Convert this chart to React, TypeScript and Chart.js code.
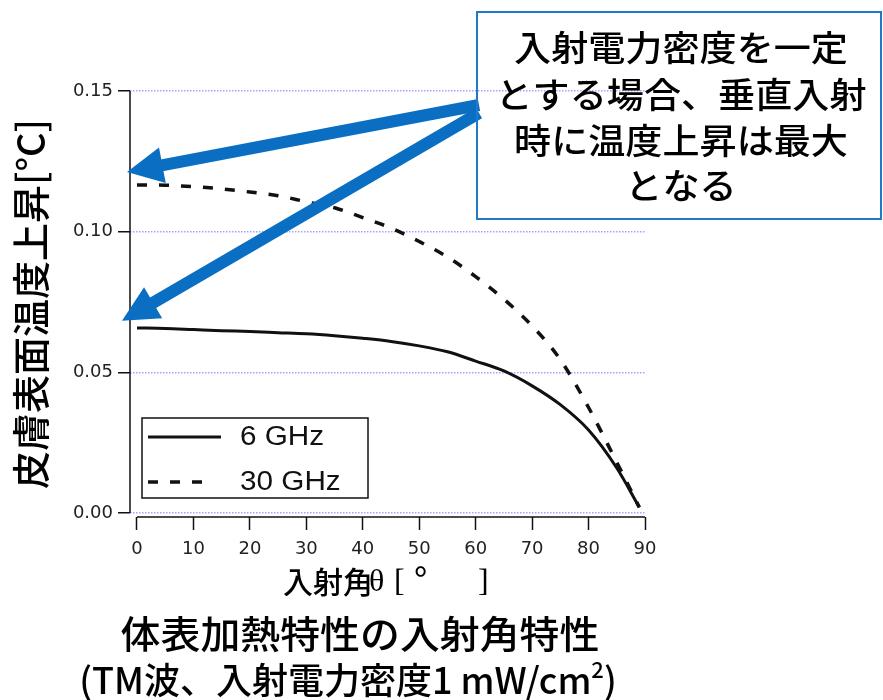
import { useEffect, useRef } from "react";
import { Chart, registerables } from "chart.js";

Chart.register(...registerables);

// Incidence angle [deg] and surface temperature rise [°C]
const ANGLES = [0, 5, 10, 15, 20, 25, 30, 35, 40, 45, 50, 55, 60, 65, 70, 75, 80, 85, 89];
const RISE_6GHZ = [
  0.0658, 0.0656, 0.0652, 0.0648, 0.0645, 0.0641, 0.0637, 0.063, 0.0621, 0.061,
  0.0594, 0.0573, 0.054, 0.0505, 0.0452, 0.0385, 0.0295, 0.016, 0.002,
];
const RISE_30GHZ = [
  0.1166, 0.1165, 0.116, 0.1152, 0.1141, 0.1128, 0.1106, 0.1085, 0.105, 0.1013,
  0.0965, 0.091, 0.084, 0.076, 0.0665, 0.0545, 0.0375, 0.018, 0.002,
];
const SERIES_LABELS = ["6 GHz", "30 GHz"];
const X_TICKS = [0, 10, 20, 30, 40, 50, 60, 70, 80, 90];
const Y_TICKS = [0, 0.05, 0.1, 0.15];

const Y_TITLE = "皮膚表面温度上昇[°C]";
const X_TITLE = "入射角";
const X_TITLE_SYMBOL = "θ";
const CAPTION = "体表加熱特性の入射角特性";
const CONDITION = "(TM波、入射電力密度1 mW/cm";
const CONDITION_SUP = "2";
const CONDITION_END = ")";
const NOTE_LINES = ["入射電力密度を一定", "とする場合、垂直入射", "時に温度上昇は最大", "となる"];

const CJK = '"Noto Sans CJK JP", "Noto Sans", sans-serif';
const BLUE = "#0a6fc2";

function drawText(
  ctx: CanvasRenderingContext2D,
  text: string,
  x: number,
  y: number,
  font: string,
  align: CanvasTextAlign = "left",
  sx = 1,
  color = "#000"
) {
  ctx.save();
  ctx.font = font;
  ctx.fillStyle = color;
  ctx.textAlign = align;
  ctx.textBaseline = "middle";
  ctx.translate(x, y);
  ctx.scale(sx, 1);
  ctx.fillText(text, 0, 0);
  ctx.restore();
}

function drawArrow(ctx: CanvasRenderingContext2D, x0: number, y0: number, x1: number, y1: number) {
  const ang = Math.atan2(y1 - y0, x1 - x0);
  const headLen = 36;
  const headHalf = 18;
  const bx = x1 - headLen * Math.cos(ang);
  const by = y1 - headLen * Math.sin(ang);
  ctx.save();
  ctx.strokeStyle = BLUE;
  ctx.fillStyle = BLUE;
  ctx.lineWidth = 12;
  ctx.lineCap = "butt";
  ctx.beginPath();
  ctx.moveTo(x0, y0);
  ctx.lineTo(bx + 2 * Math.cos(ang), by + 2 * Math.sin(ang));
  ctx.stroke();
  ctx.beginPath();
  ctx.moveTo(x1, y1);
  ctx.lineTo(bx - headHalf * Math.sin(ang), by + headHalf * Math.cos(ang));
  ctx.lineTo(bx + headHalf * Math.sin(ang), by - headHalf * Math.cos(ang));
  ctx.closePath();
  ctx.fill();
  ctx.restore();
}

const decorPlugin = {
  id: "decor",
  afterDraw(chart: any) {
    const ctx: CanvasRenderingContext2D = chart.ctx;
    const xs = chart.scales.x;
    const ys = chart.scales.y;
    const area = chart.chartArea;

    // free-standing axis lines
    ctx.save();
    ctx.strokeStyle = "#111";
    ctx.lineWidth = 1.5;
    ctx.beginPath();
    ctx.moveTo(area.left, ys.getPixelForValue(Y_TICKS[Y_TICKS.length - 1]));
    ctx.lineTo(area.left, ys.getPixelForValue(Y_TICKS[0]));
    ctx.moveTo(xs.getPixelForValue(X_TICKS[0]), area.bottom);
    ctx.lineTo(xs.getPixelForValue(X_TICKS[X_TICKS.length - 1]), area.bottom);
    ctx.stroke();
    ctx.restore();

    // legend
    const ds = chart.data.datasets;
    ctx.save();
    ctx.strokeStyle = "#111";
    ctx.lineWidth = 1.5;
    ctx.strokeRect(142, 418, 226, 80);
    const rows = [437, 482];
    ds.forEach((d: any, i: number) => {
      ctx.save();
      ctx.strokeStyle = d.borderColor;
      ctx.lineWidth = d.borderWidth;
      ctx.setLineDash(d.borderDash || []);
      ctx.beginPath();
      ctx.moveTo(148, rows[i]);
      ctx.lineTo(i === 0 ? 221 : 212, rows[i]);
      ctx.stroke();
      ctx.restore();
      drawText(ctx, d.label, 240, rows[i] + 1, '27px "Liberation Sans", Arial, sans-serif', "left", 1.1, "#111");
    });
    ctx.restore();

    // callout arrows and box
    const tipX = area.left;
    drawArrow(ctx, 479, 105, tipX - 3, ys.getPixelForValue(0.1212));
    drawArrow(ctx, 479, 113, tipX - 8, ys.getPixelForValue(0.0683));
    ctx.save();
    ctx.strokeStyle = "#2279c6";
    ctx.lineWidth = 2;
    ctx.strokeRect(477, 12, 404, 207);
    ctx.restore();
    const noteY = [48, 95, 141, 186];
    NOTE_LINES.forEach((t, i) => drawText(ctx, t, 681, noteY[i], `500 35px ${CJK}`, "center", 1.06));

    // y title
    ctx.save();
    ctx.translate(31, 304);
    ctx.rotate(-Math.PI / 2);
    ctx.font = `500 38px ${CJK}`;
    ctx.fillStyle = "#000";
    ctx.textAlign = "center";
    ctx.textBaseline = "middle";
    ctx.fillText(Y_TITLE, 0, 0);
    ctx.restore();

    // x title
    drawText(ctx, X_TITLE, 283, 582, `500 30px ${CJK}`);
    drawText(ctx, X_TITLE_SYMBOL, 369, 583, '32px "Liberation Serif", serif');
    drawText(ctx, "[", 394, 583, '32px "Liberation Serif", serif');
    drawText(ctx, "°", 414, 580, `36px ${CJK}`);
    drawText(ctx, "]", 478, 583, '32px "Liberation Serif", serif');

    // caption
    drawText(ctx, CAPTION, 360, 634, `500 38px ${CJK}`, "center", 1.05);

    // condition line with superscript
    ctx.save();
    const mainFont = `500 36px ${CJK}`;
    const supFont = `500 22px ${CJK}`;
    ctx.font = mainFont;
    const w1 = ctx.measureText(CONDITION).width;
    const w3 = ctx.measureText(CONDITION_END).width;
    ctx.font = supFont;
    const w2 = ctx.measureText(CONDITION_SUP).width;
    ctx.restore();
    const total = w1 + w2 + w3;
    const left = 348 - total / 2;
    drawText(ctx, CONDITION, left, 680, mainFont);
    drawText(ctx, CONDITION_SUP, left + w1, 670, supFont);
    drawText(ctx, CONDITION_END, left + w1 + w2, 680, mainFont);
  },
};

export default function App() {
  const canvasRef = useRef<HTMLCanvasElement>(null);

  useEffect(() => {
    document.body.style.margin = "0";
    const canvas = canvasRef.current;
    if (!canvas) return;
    const chart = new Chart(canvas, {
      type: "line",
      data: {
        datasets: [
          {
            label: SERIES_LABELS[0],
            data: ANGLES.map((a, i) => ({ x: a, y: RISE_6GHZ[i] })),
            borderColor: "#111",
            borderWidth: 3,
            pointRadius: 0,
            cubicInterpolationMode: "monotone",
            fill: false,
          },
          {
            label: SERIES_LABELS[1],
            data: ANGLES.map((a, i) => ({ x: a, y: RISE_30GHZ[i] })),
            borderColor: "#111",
            borderWidth: 3.5,
            borderDash: [10, 12],
            pointRadius: 0,
            cubicInterpolationMode: "monotone",
            fill: false,
          },
        ],
      },
      options: {
        responsive: false,
        animation: false,
        events: [],
        layout: { padding: { left: 0, top: 91, right: 238, bottom: 0 } },
        plugins: { legend: { display: false }, tooltip: { enabled: false } },
        scales: {
          x: {
            type: "linear",
            min: -1.24,
            max: 90,
            afterBuildTicks: (s: any) => {
              s.ticks = X_TICKS.map((v) => ({ value: v }));
            },
            afterFit: (s: any) => {
              s.height = 183;
            },
            border: { display: false },
            grid: {
              drawOnChartArea: false,
              drawTicks: true,
              tickLength: 13,
              tickColor: "#111",
              tickWidth: 1.5,
            },
            ticks: {
              color: "#222",
              font: { family: '"DejaVu Sans", sans-serif', size: 18 },
              padding: 9,
              maxRotation: 0,
              autoSkip: false,
            },
          },
          y: {
            type: "linear",
            min: -0.00142,
            max: 0.15,
            afterBuildTicks: (s: any) => {
              s.ticks = Y_TICKS.map((v) => ({ value: v }));
            },
            afterFit: (s: any) => {
              s.width = 130;
            },
            border: { display: false, dash: [1.5, 1.5] },
            grid: {
              color: "#a4a4ff",
              lineWidth: 1.5,
              tickLength: 12,
              tickColor: "#111",
              tickWidth: 1.5,
              tickBorderDash: [],
            },
            ticks: {
              color: "#222",
              font: { family: '"DejaVu Sans", sans-serif', size: 18 },
              padding: 5,
              callback: (v: any) => Number(v).toFixed(2),
            },
          },
        },
      },
      plugins: [decorPlugin],
    } as any);
    return () => chart.destroy();
  }, []);

  return (
    <div style={{ position: "absolute", left: 0, top: 0, width: 883, height: 700 }}>
      <canvas ref={canvasRef} width={883} height={700} />
    </div>
  );
}
